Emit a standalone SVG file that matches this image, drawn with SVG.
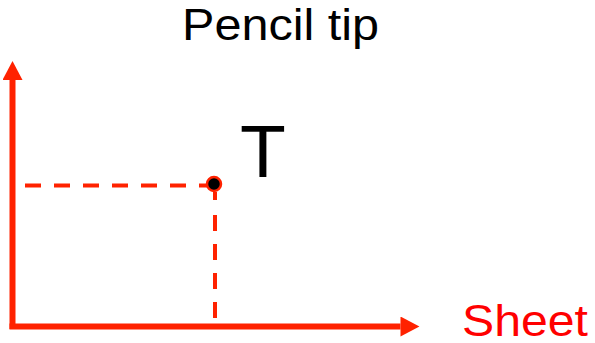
<svg xmlns="http://www.w3.org/2000/svg" width="595" height="343" viewBox="0 0 595 343">
<style>
.axis{stroke:#FF2200;stroke-width:6;fill:none}
.dash{stroke:#FF2200;stroke-width:4;stroke-dasharray:16 13;fill:none}
.txt{font-family:"Liberation Sans",Arial,sans-serif}
</style>
<defs>
<marker id="ah" markerUnits="userSpaceOnUse" markerWidth="20" markerHeight="20" viewBox="0 0 18 19" refX="0" refY="9.5" orient="auto">
<path d="M0,0 L18,9.5 L0,19 Z" fill="#FF2200"/>
</marker>
</defs>
<g id="connectors">
<path class="axis" d="M12.5,329 L12.5,80" marker-end="url(#ah)"/>
<path class="axis" d="M9.5,326.5 L400.5,326.5" marker-end="url(#ah)"/>
<path class="dash" d="M25,185.5 L207,185.5"/>
<path class="dash" d="M215,215 L215,323"/>
</g>
<g id="point-T">
<path class="dash" d="M215,192 L215,200" style="stroke-dasharray:none"/>
<circle cx="214" cy="184" r="7" fill="#000" stroke="#FF2200" stroke-width="2.5"/>
<text class="txt" x="240" y="176.5" font-size="75" fill="#000">T</text>
</g>
<g id="label-pencil">
<text class="txt" x="182" y="39.5" font-size="45" fill="#000" textLength="197" lengthAdjust="spacingAndGlyphs">Pencil tip</text>
</g>
<g id="label-sheet">
<text class="txt" x="462" y="336" font-size="45" fill="#FF0000" textLength="126" lengthAdjust="spacingAndGlyphs">Sheet</text>
</g>
</svg>
